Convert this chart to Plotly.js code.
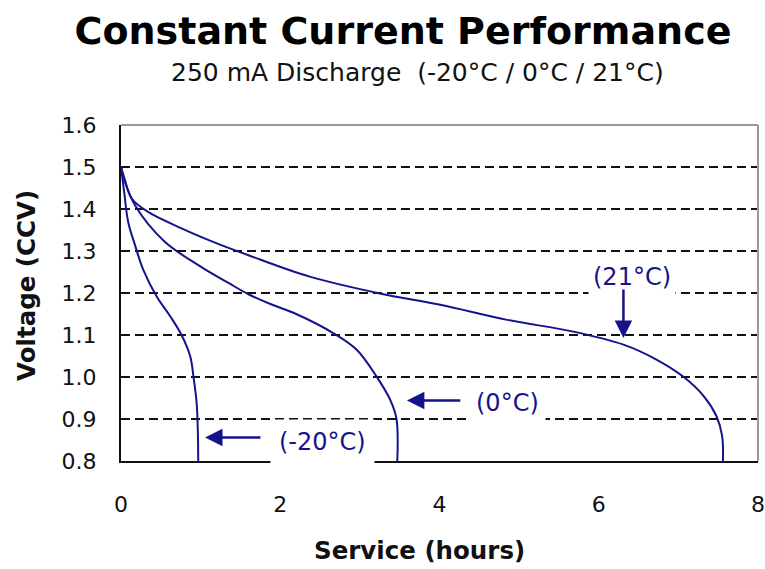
<!DOCTYPE html>
<html>
<head>
<meta charset="utf-8">
<script src="https://cdn.plot.ly/plotly-3.0.1.min.js"></script>
<style>html,body{margin:0;padding:0;background:#fff;}#chart{width:765px;height:569px;}</style>
</head>
<body>
<div id="chart"></div>
<script>
// Discharge curves (hours, volts)
const hours21 = [0, 0.04, 0.134, 0.34, 0.76, 1.18, 1.6, 2.37, 3.25, 4.01, 4.85, 5.68, 6.31, 6.73, 7.06, 7.32, 7.48, 7.55, 7.56];
const volts21 = [1.50, 1.475, 1.425, 1.393, 1.354, 1.320, 1.290, 1.239, 1.199, 1.172, 1.136, 1.108, 1.077, 1.041, 1.001, 0.954, 0.906, 0.859, 0.80];

const hours0 = [0, 0.04, 0.176, 0.55, 1.0, 1.35, 1.6, 1.9, 2.2, 2.67, 2.96, 3.21, 3.38, 3.46, 3.47];
const volts0 = [1.50, 1.47, 1.409, 1.322, 1.263, 1.224, 1.197, 1.172, 1.150, 1.104, 1.065, 1.001, 0.946, 0.90, 0.80];

const hoursM20 = [0, 0.04, 0.09, 0.176, 0.28, 0.45, 0.62, 0.76, 0.87, 0.91, 0.95, 0.965, 0.97];
const voltsM20 = [1.50, 1.44, 1.369, 1.314, 1.255, 1.191, 1.144, 1.10, 1.049, 1.001, 0.938, 0.87, 0.80];

const seriesNames = ["(21°C)", "(0°C)", "(-20°C)"];
const yTicks = [0.8, 0.9, 1.0, 1.1, 1.2, 1.3, 1.4, 1.5, 1.6];
const yTickText = ["0.8", "0.9", "1.0", "1.1", "1.2", "1.3", "1.4", "1.5", "1.6"];
const xTicks = [0, 2, 4, 6, 8];

const navy = "#14148a";
const lineStyle = {color: navy, width: 2, shape: "spline", smoothing: 1};

const traces = [
  {x: hours21, y: volts21, name: seriesNames[0], mode: "lines", line: lineStyle},
  {x: hours0, y: volts0, name: seriesNames[1], mode: "lines", line: lineStyle},
  {x: hoursM20, y: voltsM20, name: seriesNames[2], mode: "lines", line: lineStyle}
];

const labelFont = {family: "DejaVu Sans", size: 24, color: navy};

const layout = {
  width: 765, height: 569,
  margin: {l: 121, r: 7, t: 124.5, b: 107.5},
  paper_bgcolor: "#fff", plot_bgcolor: "#fff",
  showlegend: false,
  title: {
    text: "<b>Constant Current Performance</b>",
    font: {family: "DejaVu Sans", size: 38, color: "#000"},
    x: 403/765, xanchor: "center", xref: "container",
    y: 1 - 31/569, yanchor: "middle", yref: "container"
  },
  xaxis: {
    range: [0, 8], tickvals: xTicks, ticks: "", showgrid: false, zeroline: false,
    showline: true, linecolor: "#111", linewidth: 2,
    tickfont: {family: "DejaVu Sans", size: 22, color: "#111"},
    ticklabelstandoff: 23
  },
  yaxis: {
    range: [0.8, 1.6], tickvals: yTicks, ticktext: yTickText, ticks: "",
    showgrid: true, gridcolor: "#111", gridwidth: 1.5, griddash: "9px,5px",
    zeroline: false, showline: true, linecolor: "#111", linewidth: 2,
    tickfont: {family: "DejaVu Sans", size: 22, color: "#111"},
    ticklabelstandoff: 18
  },
  shapes: [
    {type: "line", xref: "paper", yref: "paper", x0: 0, x1: 1, y0: 1, y1: 1, line: {color: "#999", width: 2}, layer: "above"},
    {type: "line", xref: "paper", yref: "paper", x0: 1, x1: 1, y0: 0, y1: 1, line: {color: "#999", width: 2}, layer: "above"}
  ],
  annotations: [
    {text: "250 mA Discharge  (-20°C / 0°C / 21°C)", xref: "paper", yref: "paper",
     x: 0.466, y: 1.156, xanchor: "center", yanchor: "middle", showarrow: false,
     font: {family: "DejaVu Sans", size: 25, color: "#111"}},
    {text: "<b>Service (hours)</b>", xref: "paper", yref: "paper",
     x: 0.469, y: -0.2656, xanchor: "center", yanchor: "middle", showarrow: false,
     font: {family: "DejaVu Sans", size: 24.5, color: "#111"}},
    {text: "<b>Voltage (CCV)</b>", xref: "paper", yref: "paper", textangle: -90,
     x: -0.1476, y: 0.524, xanchor: "center", yanchor: "middle", showarrow: false,
     font: {family: "DejaVu Sans", size: 24.5, color: "#111"}},
    // labels with white background
    {text: seriesNames[2], x: 2.525, y: 0.846, xref: "x", yref: "y", showarrow: false,
     bgcolor: "#fff", borderpad: 8, font: labelFont},
    {text: seriesNames[1], x: 4.85, y: 0.939, xref: "x", yref: "y", showarrow: false,
     bgcolor: "#fff", borderpad: 6, font: labelFont},
    {text: seriesNames[0], x: 6.42, y: 1.238, xref: "x", yref: "y", showarrow: false,
     bgcolor: "#fff", borderpad: 4, font: labelFont},
    // arrows
    {text: "", x: 1.055, y: 0.856, ax: 1.77, ay: 0.856, xref: "x", yref: "y", axref: "x", ayref: "y",
     showarrow: true, arrowhead: 2, arrowsize: 1.4, arrowwidth: 2.5, arrowcolor: navy},
    {text: "", x: 3.59, y: 0.944, ax: 4.28, ay: 0.944, xref: "x", yref: "y", axref: "x", ayref: "y",
     showarrow: true, arrowhead: 2, arrowsize: 1.4, arrowwidth: 2.5, arrowcolor: navy},
    {text: "", x: 6.31, y: 1.093, ax: 6.31, ay: 1.212, xref: "x", yref: "y", axref: "x", ayref: "y",
     showarrow: true, arrowhead: 2, arrowsize: 1.4, arrowwidth: 2.5, arrowcolor: navy}
  ]
};

Plotly.newPlot("chart", traces, layout, {displayModeBar: false, staticPlot: true});
</script>
</body>
</html>
